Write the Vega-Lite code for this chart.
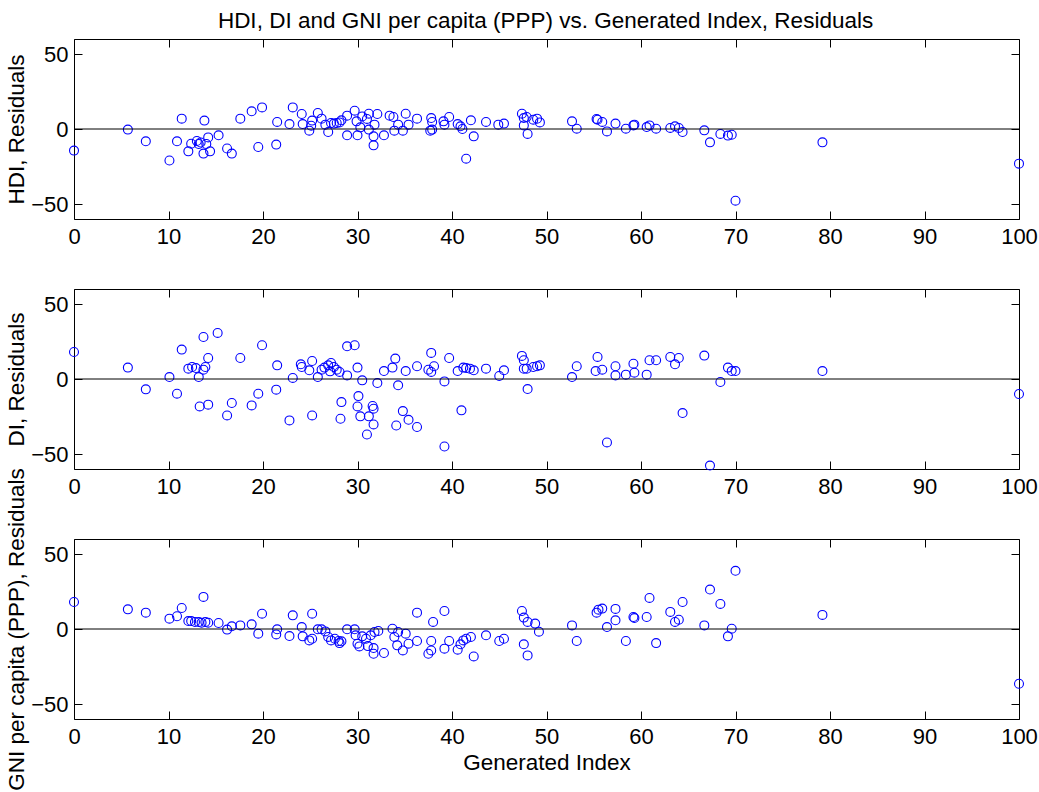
{
  "$schema": "https://vega.github.io/schema/vega-lite/v6.json",
  "background": "white",
  "padding": {"left": 5, "top": 10, "right": 5, "bottom": 5},
  "bounds": "flush",
  "spacing": 70,
  "config": {
    "font": "Liberation Sans",
    "view": {"stroke": null},
    "axis": {
      "labelFont": "Liberation Sans", "labelFontSize": 22, "labelColor": "black",
      "titleFont": "Liberation Sans", "titleFontSize": 22.5, "titleColor": "black", "titleFontWeight": "normal",
      "domainColor": "black", "tickColor": "black", "grid": false,
      "labelFlush": false, "labelOverlap": false, "labelBound": false, "domainWidth": 1, "tickWidth": 1
    }
  },
  "title": {"text": "HDI, DI and GNI per capita (PPP) vs. Generated Index, Residuals", "fontSize": 22.5, "fontWeight": "normal", "color": "black", "font": "Liberation Sans", "anchor": "middle", "offset": 6, "dx": 24},
  "datasets": {
    "hdi": [
      {"gi":0,"res":-14.4},{"gi":5.7,"res":-0.4},{"gi":7.6,"res":-8.2},{"gi":10.1,"res":-21},{"gi":10.9,"res":-8.2},{"gi":11.4,"res":6.9},{"gi":12.1,"res":-14.9},{"gi":12.4,"res":-9.8},{"gi":13.0,"res":-8},{"gi":13.2,"res":-10},{"gi":13.4,"res":-9},{"gi":13.8,"res":5.6},{"gi":13.7,"res":-16.4},{"gi":14.0,"res":-10},{"gi":14.2,"res":-5.6},{"gi":14.4,"res":-14.9},{"gi":15.3,"res":-4.2},{"gi":16.2,"res":-13},{"gi":16.7,"res":-16.4},{"gi":17.6,"res":6.9},{"gi":18.8,"res":11.8},{"gi":19.5,"res":-12},{"gi":19.9,"res":14.4},{"gi":21.4,"res":-10.4},{"gi":21.5,"res":4.7},{"gi":22.8,"res":3.3},{"gi":23.15,"res":14.4},{"gi":24.1,"res":10},{"gi":24.2,"res":3.3},{"gi":24.9,"res":-1.1},{"gi":25.2,"res":5.6},{"gi":25.1,"res":2.2},{"gi":25.8,"res":10.7},{"gi":26.2,"res":6.9},{"gi":26.6,"res":2.9},{"gi":26.9,"res":-2},{"gi":27.2,"res":4},{"gi":27.5,"res":3.6},{"gi":27.8,"res":4},{"gi":28.1,"res":4.4},{"gi":28.3,"res":5.8},{"gi":28.9,"res":8.9},{"gi":28.9,"res":-4.2},{"gi":29.7,"res":12.2},{"gi":29.9,"res":5.1},{"gi":30.0,"res":-4.2},{"gi":30.3,"res":1.1},{"gi":30.5,"res":8.4},{"gi":31.0,"res":6.7},{"gi":31.2,"res":-0.4},{"gi":31.2,"res":10.2},{"gi":31.7,"res":-4.9},{"gi":31.7,"res":-10.9},{"gi":31.8,"res":2.9},{"gi":32.1,"res":10},{"gi":32.8,"res":-4.2},{"gi":33.4,"res":8.9},{"gi":33.8,"res":8},{"gi":33.9,"res":-1.1},{"gi":34.3,"res":2.9},{"gi":34.8,"res":-1.1},{"gi":35.1,"res":10.2},{"gi":35.4,"res":2.9},{"gi":36.3,"res":6.9},{"gi":37.7,"res":-1.1},{"gi":37.8,"res":7.3},{"gi":37.9,"res":4.7},{"gi":37.9,"res":-0.4},{"gi":39.1,"res":5.1},{"gi":39.2,"res":2.9},{"gi":39.7,"res":8},{"gi":40.6,"res":3.3},{"gi":40.9,"res":1.8},{"gi":41.1,"res":0},{"gi":41.5,"res":-19.8},{"gi":42.0,"res":5.8},{"gi":42.3,"res":-4.9},{"gi":43.6,"res":4.7},{"gi":44.9,"res":2.9},{"gi":45.5,"res":3.6},{"gi":47.4,"res":10.2},{"gi":47.6,"res":7.3},{"gi":47.6,"res":2.4},{"gi":47.9,"res":8},{"gi":48.0,"res":-3.3},{"gi":48.6,"res":6.2},{"gi":49.0,"res":6.9},{"gi":49.3,"res":4.4},{"gi":52.7,"res":5.1},{"gi":53.2,"res":0.2},{"gi":55.3,"res":6.7},{"gi":55.4,"res":6.2},{"gi":55.9,"res":4.7},{"gi":56.4,"res":-1.6},{"gi":57.3,"res":3.6},{"gi":58.4,"res":0.2},{"gi":59.2,"res":2.4},{"gi":59.3,"res":2.9},{"gi":60.6,"res":1.3},{"gi":60.9,"res":2.4},{"gi":61.6,"res":0.2},{"gi":63.1,"res":0.7},{"gi":63.6,"res":1.8},{"gi":64.0,"res":0.7},{"gi":64.4,"res":-2},{"gi":66.7,"res":-0.9},{"gi":67.3,"res":-8.9},{"gi":68.4,"res":-3.3},{"gi":69.2,"res":-4.4},{"gi":69.6,"res":-3.8},{"gi":70.0,"res":-47.8},{"gi":79.2,"res":-8.9},{"gi":100,"res":-23.1}
    ],
    "di": [
      {"gi":0,"res":18},{"gi":5.7,"res":7.6},{"gi":7.6,"res":-6.9},{"gi":10.1,"res":1.3},{"gi":10.9,"res":-9.8},{"gi":11.4,"res":19.6},{"gi":12.1,"res":6.9},{"gi":12.5,"res":8},{"gi":12.9,"res":7.3},{"gi":13.2,"res":1.3},{"gi":13.3,"res":-18.3},{"gi":13.7,"res":6.2},{"gi":13.7,"res":28},{"gi":13.9,"res":8},{"gi":14.2,"res":-17.1},{"gi":14.2,"res":14},{"gi":15.2,"res":30.7},{"gi":16.2,"res":-24.3},{"gi":16.7,"res":-16},{"gi":17.6,"res":14},{"gi":18.8,"res":-17.6},{"gi":19.5,"res":-9.8},{"gi":19.9,"res":22.5},{"gi":21.4,"res":-7.1},{"gi":21.5,"res":9.1},{"gi":22.8,"res":-27.6},{"gi":23.15,"res":0.7},{"gi":24.0,"res":9.8},{"gi":24.1,"res":8},{"gi":24.9,"res":5.8},{"gi":25.2,"res":-24.3},{"gi":25.2,"res":12},{"gi":25.8,"res":1.3},{"gi":26.2,"res":6.2},{"gi":26.5,"res":7.6},{"gi":26.9,"res":9.1},{"gi":27.1,"res":5.1},{"gi":27.2,"res":10.7},{"gi":27.5,"res":8},{"gi":27.8,"res":6.2},{"gi":28.1,"res":4.7},{"gi":28.2,"res":-26.5},{"gi":28.3,"res":-15.4},{"gi":28.9,"res":2.4},{"gi":28.9,"res":21.8},{"gi":29.7,"res":22.5},{"gi":30.0,"res":7.6},{"gi":30.0,"res":-18.3},{"gi":30.1,"res":-11.4},{"gi":30.3,"res":-24.9},{"gi":30.5,"res":-0.9},{"gi":31.0,"res":-37},{"gi":31.2,"res":-24.9},{"gi":31.6,"res":-18},{"gi":31.7,"res":-19.8},{"gi":31.7,"res":-30.3},{"gi":32.1,"res":-2.7},{"gi":32.8,"res":5.3},{"gi":33.7,"res":7.6},{"gi":34.0,"res":13.6},{"gi":34.1,"res":-31},{"gi":34.3,"res":-4.2},{"gi":34.8,"res":-21.4},{"gi":35.1,"res":5.3},{"gi":35.4,"res":-27.2},{"gi":36.3,"res":8.5},{"gi":36.3,"res":-32},{"gi":37.5,"res":6.2},{"gi":37.8,"res":17.4},{"gi":37.8,"res":4.7},{"gi":38.1,"res":8.5},{"gi":39.2,"res":-1.6},{"gi":39.2,"res":-45},{"gi":39.7,"res":14},{"gi":40.6,"res":5.3},{"gi":41.0,"res":-20.9},{"gi":41.2,"res":7.6},{"gi":41.5,"res":7.3},{"gi":41.9,"res":6.9},{"gi":42.3,"res":5.8},{"gi":43.6,"res":6.9},{"gi":45.0,"res":2},{"gi":45.5,"res":5.8},{"gi":47.4,"res":15.4},{"gi":47.6,"res":12.5},{"gi":47.6,"res":6.9},{"gi":47.9,"res":6.9},{"gi":48.0,"res":-6.7},{"gi":48.6,"res":8},{"gi":49.0,"res":8.5},{"gi":49.3,"res":9.1},{"gi":52.7,"res":1.3},{"gi":53.2,"res":8.5},{"gi":55.2,"res":5.3},{"gi":55.4,"res":14.7},{"gi":55.9,"res":6.2},{"gi":56.4,"res":-42.3},{"gi":57.3,"res":8.5},{"gi":57.3,"res":2.4},{"gi":58.4,"res":2.9},{"gi":59.2,"res":10.2},{"gi":59.3,"res":4.2},{"gi":60.6,"res":2.9},{"gi":60.9,"res":12.5},{"gi":61.6,"res":12.5},{"gi":63.1,"res":14.7},{"gi":63.6,"res":9.8},{"gi":64.0,"res":14},{"gi":64.4,"res":-22.7},{"gi":66.7,"res":15.6},{"gi":67.3,"res":-57.7},{"gi":68.4,"res":-2},{"gi":69.2,"res":7.6},{"gi":69.6,"res":5.3},{"gi":70.0,"res":5.3},{"gi":79.2,"res":5.3},{"gi":100,"res":-10}
    ],
    "gni": [
      {"gi":0,"res":18},{"gi":5.7,"res":13.1},{"gi":7.6,"res":10.9},{"gi":10.1,"res":6.9},{"gi":10.9,"res":8.5},{"gi":11.4,"res":14},{"gi":12.1,"res":5.3},{"gi":12.4,"res":5.3},{"gi":12.8,"res":4.7},{"gi":13.2,"res":4.7},{"gi":13.5,"res":4.2},{"gi":13.7,"res":21.4},{"gi":13.9,"res":4.7},{"gi":14.2,"res":4.2},{"gi":15.3,"res":4},{"gi":16.2,"res":-0.4},{"gi":16.7,"res":1.8},{"gi":17.6,"res":2.4},{"gi":18.8,"res":3.1},{"gi":19.5,"res":-3.1},{"gi":19.9,"res":10.2},{"gi":21.4,"res":-3.6},{"gi":21.5,"res":-0.2},{"gi":22.8,"res":-4.7},{"gi":23.15,"res":9.1},{"gi":24.1,"res":1.3},{"gi":24.2,"res":-4.9},{"gi":24.9,"res":-7.6},{"gi":25.2,"res":10.2},{"gi":25.2,"res":-6.5},{"gi":25.8,"res":-0.2},{"gi":26.2,"res":-0.2},{"gi":26.6,"res":-1.6},{"gi":26.9,"res":-5.3},{"gi":27.2,"res":-7.6},{"gi":27.6,"res":-6.5},{"gi":28.0,"res":-8},{"gi":28.1,"res":-9.4},{"gi":28.3,"res":-8.2},{"gi":28.9,"res":-0.2},{"gi":29.7,"res":-0.2},{"gi":29.8,"res":-4.2},{"gi":30.0,"res":-9.8},{"gi":30.2,"res":-11.6},{"gi":30.5,"res":-4.9},{"gi":30.9,"res":-6.5},{"gi":31.1,"res":-11.4},{"gi":31.4,"res":-4.2},{"gi":31.7,"res":-12.7},{"gi":31.7,"res":-16.5},{"gi":31.8,"res":-2},{"gi":32.2,"res":-1.3},{"gi":32.8,"res":-16},{"gi":33.7,"res":0.2},{"gi":33.9,"res":-5.3},{"gi":34.2,"res":-10.9},{"gi":34.3,"res":-2},{"gi":34.8,"res":-14.3},{"gi":35.1,"res":-3.1},{"gi":35.4,"res":-9.8},{"gi":36.3,"res":-8},{"gi":36.3,"res":10.9},{"gi":37.5,"res":-16.5},{"gi":37.8,"res":-14.3},{"gi":37.8,"res":-8},{"gi":38.0,"res":4.7},{"gi":39.2,"res":-13.1},{"gi":39.2,"res":12},{"gi":39.7,"res":-8},{"gi":40.6,"res":-13.8},{"gi":40.9,"res":-10.2},{"gi":41.2,"res":-7.6},{"gi":41.5,"res":-6.5},{"gi":42.0,"res":-5.3},{"gi":42.3,"res":-18.3},{"gi":43.6,"res":-4.2},{"gi":45.0,"res":-8},{"gi":45.5,"res":-6.5},{"gi":47.4,"res":12},{"gi":47.6,"res":7.6},{"gi":47.6,"res":-10.2},{"gi":48.0,"res":4.7},{"gi":48.0,"res":-17.6},{"gi":48.8,"res":3.6},{"gi":49.2,"res":-1.8},{"gi":52.7,"res":2.4},{"gi":53.2,"res":-8},{"gi":55.3,"res":10.9},{"gi":55.5,"res":12.9},{"gi":55.9,"res":13.6},{"gi":56.4,"res":1.3},{"gi":57.3,"res":5.8},{"gi":57.3,"res":13.4},{"gi":58.4,"res":-8},{"gi":59.2,"res":8},{"gi":59.3,"res":7.3},{"gi":60.6,"res":8},{"gi":60.9,"res":20.7},{"gi":61.6,"res":-9.4},{"gi":63.1,"res":11.4},{"gi":63.6,"res":4.7},{"gi":64.0,"res":6.2},{"gi":64.4,"res":18},{"gi":66.7,"res":2.4},{"gi":67.3,"res":26.3},{"gi":68.4,"res":16.7},{"gi":69.2,"res":-4.9},{"gi":69.6,"res":0.2},{"gi":70.0,"res":38.8},{"gi":79.2,"res":9.4},{"gi":100,"res":-36.5}
    ],
    "zero": [{"base": 0, "xmin": 0, "xmax": 100}]
  },
  "vconcat": [
    {
      "width": 945, "height": 180,
      "resolve": {"axis": {"x": "independent", "y": "independent"}},
      "layer": [
        {
          "data": {"name": "hdi"},
          "mark": {"type": "point", "shape": "circle", "filled": false, "color": "#0000ff", "size": 80, "strokeWidth": 1.1, "opacity": 1},
          "encoding": {
            "x": {"field": "gi", "type": "quantitative", "scale": {"domain": [0, 100], "nice": false, "zero": false},
                  "axis": {"orient": "bottom", "values": [0,10,20,30,40,50,60,70,80,90,100], "tickSize": -8, "labelPadding": 15, "title": null}},
            "y": {"field": "res", "type": "quantitative", "scale": {"domain": [-60, 60], "nice": false},
                  "axis": {"orient": "left", "values": [-50,0,50], "tickSize": -8, "labelPadding": 14, "title": "HDI, Residuals", "titlePadding": 2}}
          }
        },
        {
          "data": {"name": "zero"},
          "mark": {"type": "rule", "color": "black", "strokeWidth": 1},
          "encoding": {
            "x": {"field": "xmin", "type": "quantitative", "axis": {"orient": "top", "values": [0,10,20,30,40,50,60,70,80,90,100], "tickSize": -8, "labels": false, "title": null}},
            "x2": {"field": "xmax"},
            "y": {"field": "base", "type": "quantitative", "axis": {"orient": "right", "values": [-50,0,50], "tickSize": -8, "labels": false, "title": null}}
          }
        }
      ]
    },
    {
      "width": 945, "height": 180,
      "resolve": {"axis": {"x": "independent", "y": "independent"}},
      "layer": [
        {
          "data": {"name": "di"},
          "mark": {"type": "point", "shape": "circle", "filled": false, "color": "#0000ff", "size": 80, "strokeWidth": 1.1, "opacity": 1},
          "encoding": {
            "x": {"field": "gi", "type": "quantitative", "scale": {"domain": [0, 100], "nice": false, "zero": false},
                  "axis": {"orient": "bottom", "values": [0,10,20,30,40,50,60,70,80,90,100], "tickSize": -8, "labelPadding": 15, "title": null}},
            "y": {"field": "res", "type": "quantitative", "scale": {"domain": [-60, 60], "nice": false},
                  "axis": {"orient": "left", "values": [-50,0,50], "tickSize": -8, "labelPadding": 14, "title": "DI, Residuals", "titlePadding": 2}}
          }
        },
        {
          "data": {"name": "zero"},
          "mark": {"type": "rule", "color": "black", "strokeWidth": 1},
          "encoding": {
            "x": {"field": "xmin", "type": "quantitative", "axis": {"orient": "top", "values": [0,10,20,30,40,50,60,70,80,90,100], "tickSize": -8, "labels": false, "title": null}},
            "x2": {"field": "xmax"},
            "y": {"field": "base", "type": "quantitative", "axis": {"orient": "right", "values": [-50,0,50], "tickSize": -8, "labels": false, "title": null}}
          }
        }
      ]
    },
    {
      "width": 945, "height": 180,
      "resolve": {"axis": {"x": "independent", "y": "independent"}},
      "layer": [
        {
          "data": {"name": "gni"},
          "mark": {"type": "point", "shape": "circle", "filled": false, "color": "#0000ff", "size": 80, "strokeWidth": 1.1, "opacity": 1},
          "encoding": {
            "x": {"field": "gi", "type": "quantitative", "scale": {"domain": [0, 100], "nice": false, "zero": false},
                  "axis": {"orient": "bottom", "values": [0,10,20,30,40,50,60,70,80,90,100], "tickSize": -8, "labelPadding": 15, "title": "Generated Index", "titlePadding": 4}},
            "y": {"field": "res", "type": "quantitative", "scale": {"domain": [-60, 60], "nice": false},
                  "axis": {"orient": "left", "values": [-50,0,50], "tickSize": -8, "labelPadding": 14, "title": "GNI per capita (PPP), Residuals", "titlePadding": 2}}
          }
        },
        {
          "data": {"name": "zero"},
          "mark": {"type": "rule", "color": "black", "strokeWidth": 1},
          "encoding": {
            "x": {"field": "xmin", "type": "quantitative", "axis": {"orient": "top", "values": [0,10,20,30,40,50,60,70,80,90,100], "tickSize": -8, "labels": false, "title": null}},
            "x2": {"field": "xmax"},
            "y": {"field": "base", "type": "quantitative", "axis": {"orient": "right", "values": [-50,0,50], "tickSize": -8, "labels": false, "title": null}}
          }
        }
      ]
    }
  ]
}
